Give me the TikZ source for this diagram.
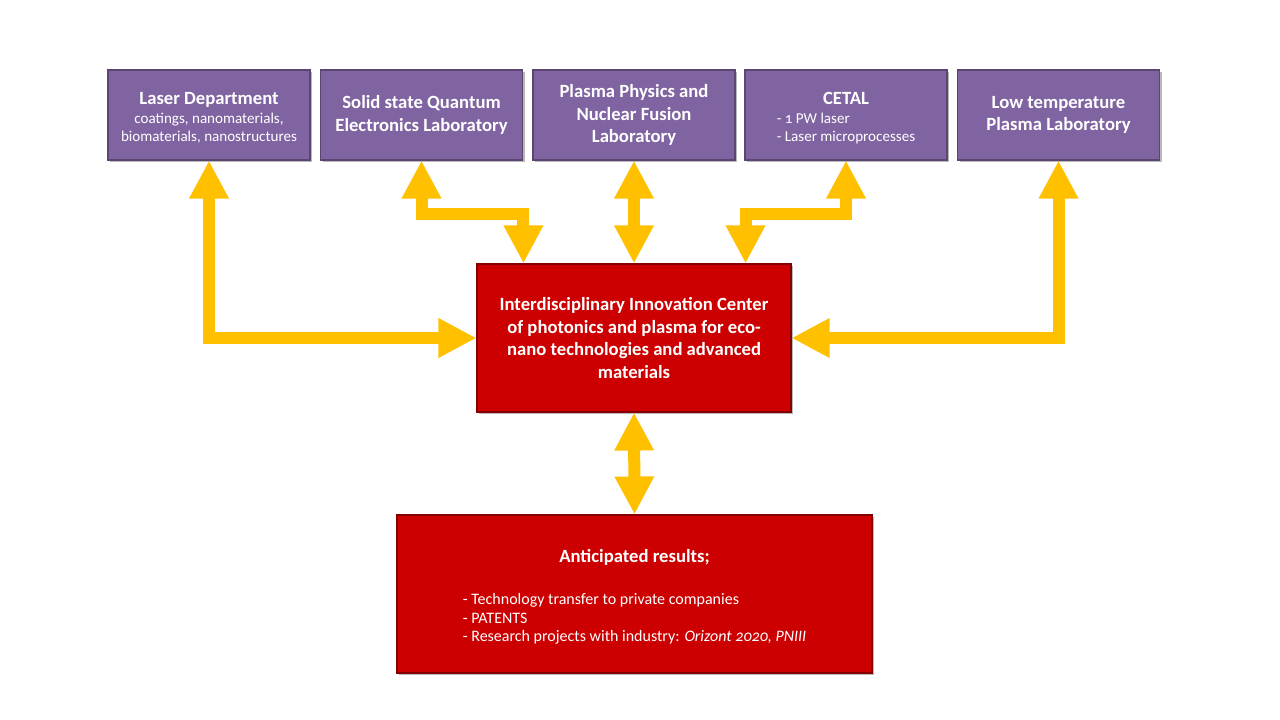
\documentclass[tikz,border=0pt]{standalone}
\usepackage{fontspec}
\setmainfont{Carlito}[Numbers=OldStyle]
\usetikzlibrary{arrows.meta,calc,shadows}
\definecolor{labpurple}{HTML}{8064A2}
\definecolor{hubred}{HTML}{CC0000}
\definecolor{arrowgold}{HTML}{FFC000}
\newcommand{\subfont}{\fontsize{11.3}{13.5}\selectfont\mdseries}
\newcommand{\listfont}{\fontsize{12}{13.9}\selectfont\mdseries}

\begin{document}
\begin{tikzpicture}[x=0.75pt,y=-0.75pt,
    boxshadow/.style={drop shadow={shadow xshift=1.5pt,shadow yshift=-1.8pt,opacity=.55}},
    lab/.style={boxshadow,fill=labpurple,draw=labpurple!70!black,line width=0.8pt,
      minimum width=151.5pt,minimum height=67.5pt,inner sep=0pt,text=white,
      align=center,font=\fontsize{14}{16.9}\selectfont\bfseries},
    hub/.style={boxshadow,fill=hubred,draw=hubred!65!black,line width=0.8pt,
      inner sep=0pt,text=white,align=center,
      font=\fontsize{14}{16.9}\selectfont\bfseries},
    both/.style={draw=arrowgold,line width=9pt,
      >={Triangle[length=28.5pt,width=27.75pt]},<->}]
    \fill[white] (0,0) rectangle (1280,720);
    \useasboundingbox (0,0) rectangle (1280,720);
    % laboratories
    \node[lab] (laser) at (209,115)
      {\rule{0pt}{16pt}Laser Department\\[-2.6pt]{\subfont\begin{tabular}[t]{@{}c@{}}coatings, nanomaterials,\\
        biomaterials, nanostructures\end{tabular}}};
    \node[lab] (ssqe) at (421.5,115) {Solid state Quantum\\Electronics Laboratory};
    \node[lab] (plasma) at (634,115) {Plasma Physics and\\Nuclear Fusion\\Laboratory};
    \node[lab] (cetal) at (846,115)
      {\rule{0pt}{16pt}CETAL\\[-2.6pt]{\subfont\begin{tabular}[t]{@{}l@{}}- 1 PW laser\\
        - Laser microprocesses\end{tabular}}};
    \node[lab] (lowt) at (1058.5,115) {Low temperature\\Plasma Laboratory};
    % center and results
    \node[hub,minimum width=235.5pt,minimum height=111pt] (iic) at (634,338)
      {Interdisciplinary Innovation Center\\of photonics and plasma for eco-\\nano technologies and advanced\\materials};
    \node[hub,minimum width=356.25pt,minimum height=118.5pt] (res) at (634.5,594)
      {\rule{0pt}{16pt}Anticipated results;\\[19pt]{\listfont\begin{tabular}{@{}l@{}}
        - Technology transfer to private companies\\
        - PATENTS\\
        - Research projects with industry: \textit{Orizont 2020, PNIII}
      \end{tabular}}};
    % arrows
    \draw[both] (laser.south) |- (iic.west);
    \draw[both] (ssqe.south) -- ++(0,53) -| ($(iic.north west)+(47,0)$);
    \draw[both] (plasma.south) -- (iic.north);
    \draw[both] (cetal.south) -- ++(0,53) -| ($(iic.north east)+(-46,0)$);
    \draw[both] (lowt.south) |- (iic.east);
    \draw[both] (iic.south) -- (res.north);
  \end{tikzpicture}
\end{document}
